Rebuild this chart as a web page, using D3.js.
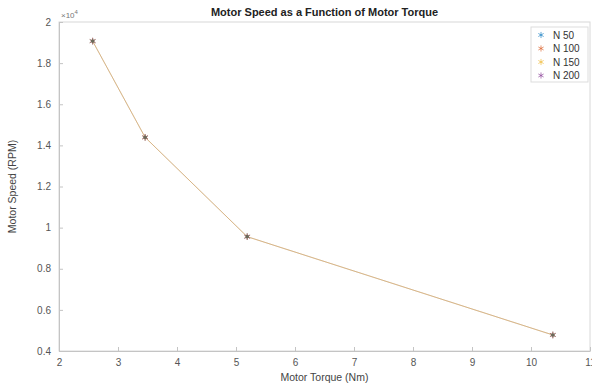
<!DOCTYPE html>
<html>
<head>
<meta charset="utf-8">
<script src="https://cdn.jsdelivr.net/npm/d3@7"></script>
<style>
  body { margin: 0; background: #fff; }
  text { font-family: Arial, "Liberation Sans", sans-serif; }
</style>
</head>
<body>
<svg id="chart"></svg>
<script>
// data
const seriesNames = ["N 50", "N 100", "N 150", "N 200"];
const seriesColors = ["#0072BD", "#D95319", "#EDB120", "#7E2F8E"];
const torque = [2.57, 3.46, 5.19, 10.37];
const speed = [19070, 14390, 9560, 4780];
const xTicks = [2, 3, 4, 5, 6, 7, 8, 9, 10, 11];
const yTicks = [4000, 6000, 8000, 10000, 12000, 14000, 16000, 18000, 20000];

const width = 592;
const height = 385;
const margin = ({ top: 22, right: 2, bottom: 34, left: 59 });

const svg = d3.select("#chart")
    .attr("width", width)
    .attr("height", height);

let xScale = d3.scaleLinear()
    .domain([2, 11])
    .range([margin.left, width - margin.right]);

let yScale = d3.scaleLinear()
    .domain([4000, 20000])
    .range([height - margin.bottom, margin.top]);

// axes box
svg.append("rect")
    .attr("x", margin.left)
    .attr("y", margin.top)
    .attr("width", width - margin.right - margin.left)
    .attr("height", height - margin.bottom - margin.top)
    .attr("fill", "#fff")
    .attr("stroke", "#d8d8d8")
    .attr("stroke-width", 1);

const fmtY = d => d3.format("~g")(d / 10000);

xAxis = g => g
    .attr("transform", `translate(0,${height - margin.bottom})`)
    .call(d3.axisBottom(xScale).tickValues(xTicks).tickSizeInner(-4).tickSizeOuter(0).tickPadding(8))
    .call(g => g.select(".domain").attr("stroke", "#c4c4c4"))
    .call(g => g.selectAll(".tick line").attr("stroke", "#c4c4c4"))
    .call(g => g.selectAll(".tick text").attr("fill", "#555").attr("font-size", 10));

yAxis = g => g
    .attr("transform", `translate(${margin.left},0)`)
    .call(d3.axisLeft(yScale).tickValues(yTicks).tickFormat(fmtY).tickSizeInner(-4).tickSizeOuter(0).tickPadding(8))
    .call(g => g.select(".domain").attr("stroke", "#c4c4c4"))
    .call(g => g.selectAll(".tick line").attr("stroke", "#c4c4c4"))
    .call(g => g.selectAll(".tick text").attr("fill", "#555").attr("font-size", 10));

svg.append("g").call(xAxis);
svg.append("g").call(yAxis);

// lines, one per series (they sit on top of each other)
const pts = torque.map((t, i) => ({ x: t, y: speed[i] }));
const line = d3.line().x(d => xScale(d.x)).y(d => yScale(d.y));

seriesNames.forEach((name, k) => {
    svg.append("path")
        .datum(pts)
        .attr("fill", "none")
        .attr("stroke", seriesColors[k])
        .attr("stroke-opacity", k === 2 ? 0.45 : 0.12)
        .attr("stroke-width", 1)
        .attr("d", line);
});

// asterisk markers
const star = d3.symbol().type(d3.symbolAsterisk).size(30);
seriesNames.forEach((name, k) => {
    svg.append("g")
        .selectAll("path")
        .data(pts)
        .join("path")
        .attr("transform", d => `translate(${xScale(d.x)},${yScale(d.y)})`)
        .attr("d", star)
        .attr("fill", "none")
        .attr("stroke", seriesColors[k])
        .attr("stroke-opacity", 0.4)
        .attr("stroke-width", 1);
});
svg.append("g")
    .selectAll("circle")
    .data(pts)
    .join("circle")
    .attr("cx", d => xScale(d.x))
    .attr("cy", d => yScale(d.y))
    .attr("r", 1.8)
    .attr("fill", "#6a6a5a");

// exponent label
const expo = svg.append("text")
    .attr("x", margin.left + 2)
    .attr("y", margin.top - 4)
    .attr("font-size", 8)
    .attr("fill", "#777");
expo.append("tspan").text("\u00d710");
expo.append("tspan").attr("dy", -4).attr("font-size", 6).text("4");

// title
svg.append("text")
    .attr("x", (margin.left + width - margin.right) / 2)
    .attr("y", 16)
    .attr("text-anchor", "middle")
    .attr("font-size", 11)
    .attr("font-weight", "bold")
    .attr("fill", "#222")
    .text("Motor Speed as a Function of Motor Torque");

// axis titles
svg.append("text")
    .attr("x", (margin.left + width - margin.right) / 2)
    .attr("y", height - 4)
    .attr("text-anchor", "middle")
    .attr("font-size", 10.5)
    .attr("fill", "#444")
    .text("Motor Torque (Nm)");

svg.append("text")
    .attr("transform", `translate(16,${(margin.top + height - margin.bottom) / 2}) rotate(-90)`)
    .attr("text-anchor", "middle")
    .attr("font-size", 10.5)
    .attr("fill", "#444")
    .text("Motor Speed (RPM)");

// legend
const legend = svg.append("g").attr("transform", "translate(531,27)");
legend.append("rect")
    .attr("width", 57)
    .attr("height", 55)
    .attr("fill", "#fff")
    .attr("stroke", "#ddd");
const items = legend.selectAll("g.item")
    .data(seriesNames)
    .join("g")
    .attr("class", "item")
    .attr("transform", (d, i) => `translate(10,${8 + i * 13.5})`);
items.append("path")
    .attr("d", d3.symbol().type(d3.symbolAsterisk).size(26))
    .attr("fill", "none")
    .attr("stroke", (d, i) => seriesColors[i])
    .attr("stroke-opacity", 0.6);
items.append("text")
    .attr("x", 12)
    .attr("y", 3.5)
    .attr("font-size", 10)
    .attr("fill", "#333")
    .text(d => d);
</script>
</body>
</html>
